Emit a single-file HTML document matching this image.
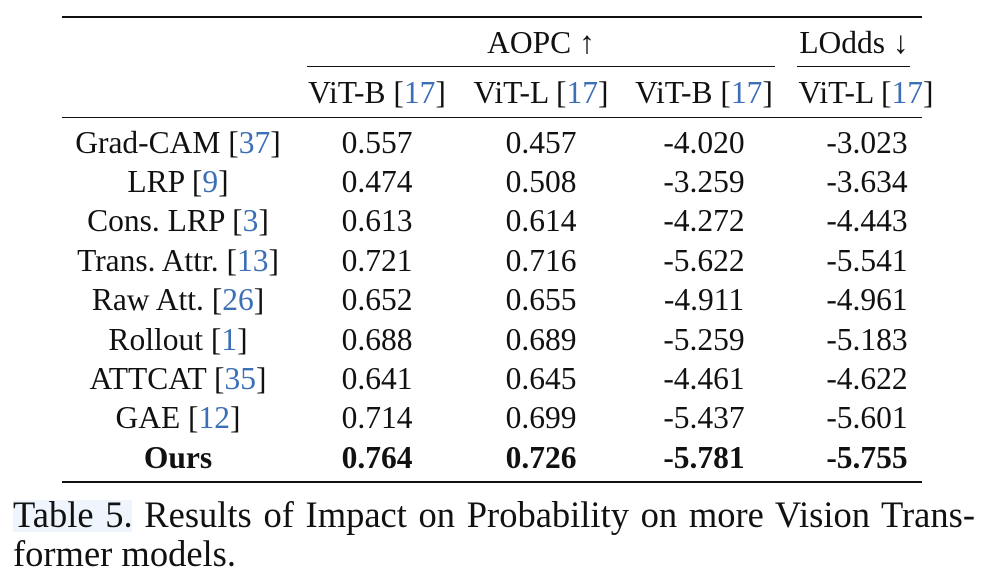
<!DOCTYPE html>
<html><head><meta charset="utf-8"><style>
body{margin:0;width:1005px;height:581px;background:#fff;position:relative;overflow:hidden;font-family:"Liberation Serif",serif;color:#111}
.t{position:absolute;font-size:31.5px;white-space:nowrap;transform:translateX(-50%);line-height:1}
.r{position:absolute;background:#111}
.c{color:#3b6fb6}
.cap{position:absolute;left:13px;width:962px;font-size:36.5px;line-height:39px;text-align:justify;text-align-last:justify;white-space:nowrap}
</style></head><body>
<div class="r" style="left:62px;top:16px;width:860px;height:2px"></div>
<div class="t" style="left:541px;top:27px">AOPC ↑</div>
<div class="t" style="left:854px;top:27px">LOdds ↓</div>
<div class="r" style="left:307px;top:66px;width:468px;height:1px"></div>
<div class="r" style="left:797px;top:66px;width:113px;height:1px"></div>
<div class="t" style="left:377px;top:77px">ViT-B [<span class="c">17</span>]</div>
<div class="t" style="left:541px;top:77px">ViT-L [<span class="c">17</span>]</div>
<div class="t" style="left:704px;top:77px">ViT-B [<span class="c">17</span>]</div>
<div class="t" style="left:866px;top:77px">ViT-L [<span class="c">17</span>]</div>
<div class="r" style="left:62px;top:117px;width:860px;height:1px"></div>
<div id="rows"></div>
<div class="r" style="left:62px;top:481px;width:860px;height:2px"></div>
<div style="position:absolute;left:13px;top:500px;width:119px;height:32px;background:#eef5fd"></div>
<div class="cap" style="top:495px">Table 5. Results of Impact on Probability on more Vision Trans-</div>
<div class="cap" style="top:534px;text-align-last:left">former models.</div>
<script>
const methods=["Grad-CAM","LRP","Cons. LRP","Trans. Attr.","Raw Att.","Rollout","ATTCAT","GAE","Ours"];
const refs=["37","9","3","13","26","1","35","12",""];
const vitbAopc=["0.557","0.474","0.613","0.721","0.652","0.688","0.641","0.714","0.764"];
const vitlAopc=["0.457","0.508","0.614","0.716","0.655","0.689","0.645","0.699","0.726"];
const vitbLodds=["-4.020","-3.259","-4.272","-5.622","-4.911","-5.259","-4.461","-5.437","-5.781"];
const vitlLodds=["-3.023","-3.634","-4.443","-5.541","-4.961","-5.183","-4.622","-5.601","-5.755"];
const cols=[178,377,541,704,867];
const host=document.getElementById('rows');
methods.forEach((m,i)=>{
  const y=126.5+i*39.4;
  const bold=i===methods.length-1;
  const vals=[m,vitbAopc[i],vitlAopc[i],vitbLodds[i],vitlLodds[i]];
  vals.forEach((v,j)=>{
    const d=document.createElement('div');
    d.className='t';
    d.style.left=cols[j]+'px';d.style.top=y+'px';
    if(j===0&&refs[i]){d.innerHTML=v+' [<span class="c">'+refs[i]+'</span>]';}
    else d.textContent=v;
    if(bold)d.style.fontWeight='bold';
    
    
    host.appendChild(d);
  });
});
</script>
</body></html>
